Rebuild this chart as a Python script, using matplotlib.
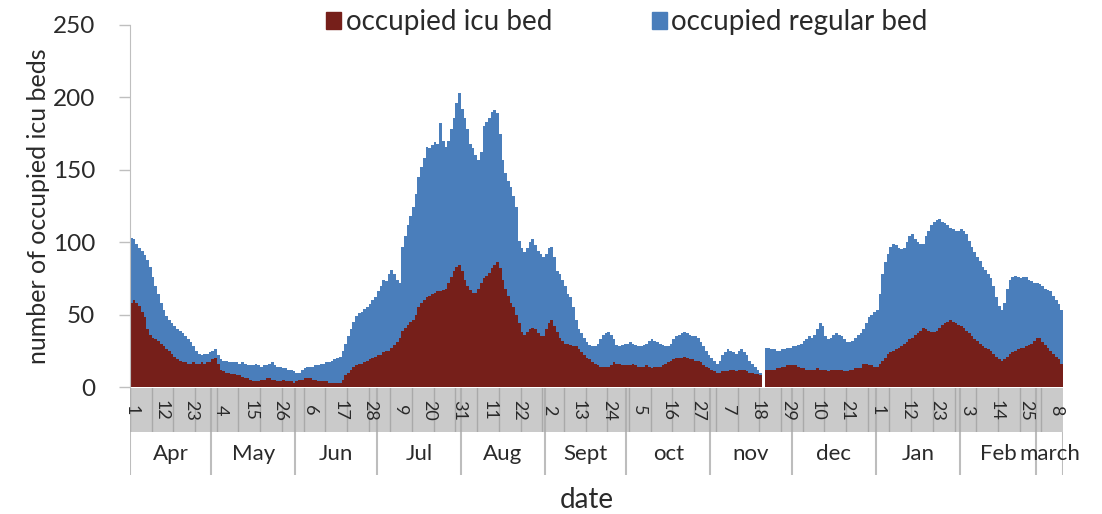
import matplotlib
matplotlib.use("Agg")
import matplotlib.pyplot as plt
from matplotlib.patches import Patch
import numpy as np

plt.rcParams['font.family'] = ['Lato', 'DejaVu Sans']

# daily occupied ICU beds, 1 Apr .. 10 Mar
icu = [
    58, 60, 58, 56, 52, 48, 40, 36, 34, 33,
    32, 30, 28, 26, 25, 23, 21, 19, 18, 17,
    17, 16, 16, 17, 16, 16, 17, 16, 17, 17,
    19, 20, 16, 12, 11, 10, 10, 9, 9, 8,
    8, 7, 6, 6, 5, 4, 4, 4, 5, 5,
    6, 6, 5, 5, 4, 4, 5, 4, 4, 4,
    3, 4, 5, 5, 6, 6, 6, 5, 5, 4,
    4, 4, 4, 3, 3, 3, 3, 3, 5, 8,
    10, 12, 14, 15, 16, 16, 17, 18, 19, 20,
    21, 22, 22, 24, 25, 25, 27, 29, 31, 34,
    39, 41, 43, 45, 46, 50, 55, 58, 60, 62,
    63, 64, 65, 66, 66, 67, 68, 72, 76, 80,
    83, 84, 80, 74, 70, 67, 65, 65, 68, 72,
    75, 77, 79, 82, 84, 86, 82, 74, 68, 63,
    58, 55, 50, 44, 38, 36, 38, 40, 41, 40,
    37, 35, 35, 40, 44, 46, 42, 38, 34, 32,
    30, 30, 29, 28, 28, 26, 24, 22, 20, 19,
    17, 16, 15, 14, 14, 14, 14, 15, 17, 16,
    16, 15, 15, 15, 15, 16, 15, 14, 14, 14,
    15, 14, 13, 14, 14, 14, 15, 16, 17, 18,
    19, 20, 20, 20, 21, 20, 19, 19, 18, 18,
    17, 15, 14, 13, 12, 11, 10, 10, 11, 11,
    11, 12, 12, 11, 12, 12, 12, 11, 10, 10,
    9, 9, 8, 0, 12, 12, 12, 12, 13, 13,
    14, 14, 15, 15, 15, 15, 14, 13, 13, 12,
    12, 12, 12, 13, 12, 12, 12, 11, 12, 12,
    12, 12, 12, 11, 11, 12, 12, 13, 13, 13,
    16, 16, 15, 15, 14, 14, 16, 18, 20, 23,
    24, 25, 26, 27, 28, 30, 31, 33, 34, 36,
    37, 39, 41, 40, 39, 38, 38, 39, 41, 43,
    44, 45, 46, 45, 44, 43, 42, 41, 39, 37,
    35, 33, 32, 30, 28, 27, 26, 25, 23, 21,
    19, 18, 19, 21, 23, 24, 25, 26, 27, 27,
    28, 29, 30, 32, 34, 34, 31, 29, 27, 25,
    23, 21, 19, 16,
]

# daily occupied regular beds
regular = [
    45, 42, 41, 40, 42, 43, 48, 47, 42, 37,
    32, 28, 25, 23, 21, 21, 21, 21, 21, 20,
    18, 17, 15, 11, 9, 7, 5, 7, 6, 7,
    6, 6, 6, 7, 7, 8, 7, 8, 8, 9,
    8, 10, 10, 9, 10, 11, 12, 11, 9, 10,
    9, 10, 12, 10, 10, 10, 8, 9, 8, 8,
    8, 6, 5, 7, 7, 8, 8, 9, 10, 11,
    12, 12, 13, 14, 15, 16, 17, 18, 20, 22,
    25, 28, 31, 34, 35, 36, 37, 37, 38, 40,
    41, 44, 48, 50, 48, 53, 54, 49, 43, 38,
    58, 63, 69, 73, 78, 83, 90, 94, 98, 104,
    102, 103, 104, 102, 116, 103, 98, 98, 102, 106,
    113, 119, 112, 112, 108, 101, 100, 95, 89, 90,
    105, 106, 107, 108, 107, 103, 93, 83, 80, 79,
    80, 77, 74, 57, 58, 57, 58, 60, 61, 58,
    57, 57, 55, 52, 52, 51, 48, 42, 44, 42,
    40, 34, 33, 27, 18, 14, 13, 12, 11, 10,
    11, 12, 15, 19, 22, 23, 24, 21, 16, 13,
    12, 14, 15, 15, 16, 14, 14, 14, 14, 15,
    15, 18, 20, 18, 17, 16, 14, 12, 11, 12,
    14, 15, 16, 17, 17, 17, 17, 16, 17, 16,
    14, 13, 11, 9, 8, 7, 6, 8, 11, 13,
    15, 13, 12, 12, 13, 14, 12, 11, 8, 6,
    5, 3, 2, 0, 15, 15, 14, 14, 12, 12,
    12, 12, 12, 12, 13, 13, 15, 17, 19, 21,
    23, 22, 24, 27, 32, 30, 23, 22, 22, 24,
    25, 24, 23, 22, 20, 19, 20, 21, 23, 24,
    24, 28, 33, 35, 38, 39, 48, 60, 66, 69,
    73, 74, 72, 69, 67, 66, 69, 71, 72, 66,
    63, 60, 58, 64, 69, 74, 76, 76, 75, 71,
    69, 67, 64, 64, 64, 65, 67, 67, 67, 64,
    62, 60, 58, 57, 55, 54, 52, 50, 47, 41,
    37, 35, 39, 47, 51, 52, 52, 50, 48, 49,
    48, 45, 43, 40, 38, 37, 39, 39, 40, 41,
    40, 39, 38, 37,
]

day_labels = ['1', '12', '23', '4', '15', '26', '6', '17', '28', '9', '20', '31',
              '11', '22', '2', '13', '24', '5', '16', '27', '7', '18', '29', '10',
              '21', '1', '12', '23', '3', '14', '25', '8']
months = ['Apr', 'May', 'Jun', 'Jul', 'Aug', 'Sept', 'oct', 'nov', 'dec', 'Jan', 'Feb', 'march']
month_days = [30, 31, 30, 31, 31, 30, 31, 30, 31, 31, 28, 10]

series_names = ['occupied icu bed', 'occupied regular bed']
c_icu = '#761f1a'
c_reg = '#4a7ebb'
txt = '#2a2a2a'

W, H = 1102, 514
fig = plt.figure(figsize=(W / 100, H / 100), dpi=100)

def fr(x0, y0, x1, y1):
    return [x0 / W, 1 - y1 / H, (x1 - x0) / W, (y1 - y0) / H]

n = len(icu)
x = np.arange(n)
xlim = (-0.5, n - 0.5)

ax = fig.add_axes(fr(130, 25, 1063, 387))
ax.bar(x, icu, width=1.0, color=c_icu, linewidth=0, label=series_names[0])
ax.bar(x, regular, width=1.0, bottom=icu, color=c_reg, linewidth=0, label=series_names[1])
ax.set_xlim(*xlim)
ax.set_ylim(0, 250)
ax.set_yticks(range(0, 251, 50))
ax.tick_params(axis='y', labelsize=17.5, labelcolor=txt, color='#bfbfbf',
               length=8, width=1, pad=17)
ax.set_xticks([])
for s in ['top', 'right', 'bottom']:
    ax.spines[s].set_visible(False)
ax.spines['left'].set_color('#bfbfbf')
ax.set_ylabel('number of occupied icu beds', fontsize=18, color=txt)
ax.yaxis.set_label_coords(-80 / 933, 0.5)

# gray day band
band = fig.add_axes(fr(130, 388, 1063, 432))
band.set_facecolor('#cacaca')
band.set_xlim(*xlim)
band.set_ylim(0, 1)
for gx in np.arange(0, n, 8):
    band.axvline(gx - 0.5, color='#a9a9a9', lw=1)
for i, lab in enumerate(day_labels):
    band.text(i * 11, 0.5, lab, rotation=-90, ha='center', va='center',
              fontsize=13, color=txt)
band.set_xticks([])
band.set_yticks([])
for s in band.spines.values():
    s.set_visible(False)

# month band
mb = fig.add_axes(fr(130, 432, 1063, 475))
mb.set_xlim(*xlim)
mb.set_ylim(0, 1)
mb.axis('off')
start = 0
for m, d in zip(months, month_days):
    mb.axvline(start - 0.5, color='#bdbdbd', lw=1.5)
    band.axvline(start - 0.5, color='#b0b0b0', lw=1.5)
    mb.text(start + d / 2 - 0.5, 0.5, m, ha='center', va='center', fontsize=16, color=txt)
    start += d
mb.axvline(start - 0.5, color='#bdbdbd', lw=1.5)

fig.text(587 / W, 1 - 500 / H, 'date', ha='center', va='center', fontsize=20, color=txt)

handles = [Patch(color=c_icu), Patch(color=c_reg)]
fig.legend(handles, series_names, loc='center', bbox_to_anchor=(627 / W, 1 - 22 / H),
           ncol=2, frameon=False, fontsize=20, handlelength=0.55, handleheight=0.55,
           handletextpad=0.15, columnspacing=3.6, labelcolor=txt)

fig.savefig('out.png', dpi=100, facecolor='white')
